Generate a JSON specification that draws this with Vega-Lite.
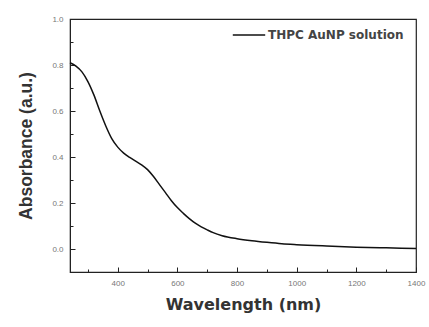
{
  "$schema": "https://vega.github.io/schema/vega-lite/v6.json",
  "width": 346,
  "height": 253,
  "autosize": "none",
  "padding": {"left": 70, "top": 19, "right": 13, "bottom": 55},
  "background": "white",
  "config": {
    "view": {"stroke": "#222", "strokeWidth": 1.2},
    "axis": {"grid": false, "domainColor": "#222", "tickColor": "#222", "labelFont": "Liberation Sans", "labelFontSize": 8, "labelColor": "#777", "titleFont": "DejaVu Sans", "titleFontSize": 16, "titleFontWeight": "bold", "titleColor": "#333"}
  },
  "data": {"values": [
    {"wl": 240, "abs": 0.81, "s": "THPC AuNP solution"},
    {"wl": 260, "abs": 0.795, "s": "THPC AuNP solution"},
    {"wl": 280, "abs": 0.77, "s": "THPC AuNP solution"},
    {"wl": 300, "abs": 0.728, "s": "THPC AuNP solution"},
    {"wl": 320, "abs": 0.67, "s": "THPC AuNP solution"},
    {"wl": 340, "abs": 0.6, "s": "THPC AuNP solution"},
    {"wl": 360, "abs": 0.535, "s": "THPC AuNP solution"},
    {"wl": 380, "abs": 0.48, "s": "THPC AuNP solution"},
    {"wl": 400, "abs": 0.443, "s": "THPC AuNP solution"},
    {"wl": 420, "abs": 0.417, "s": "THPC AuNP solution"},
    {"wl": 440, "abs": 0.398, "s": "THPC AuNP solution"},
    {"wl": 460, "abs": 0.382, "s": "THPC AuNP solution"},
    {"wl": 480, "abs": 0.366, "s": "THPC AuNP solution"},
    {"wl": 500, "abs": 0.345, "s": "THPC AuNP solution"},
    {"wl": 520, "abs": 0.315, "s": "THPC AuNP solution"},
    {"wl": 540, "abs": 0.28, "s": "THPC AuNP solution"},
    {"wl": 560, "abs": 0.245, "s": "THPC AuNP solution"},
    {"wl": 580, "abs": 0.21, "s": "THPC AuNP solution"},
    {"wl": 600, "abs": 0.18, "s": "THPC AuNP solution"},
    {"wl": 620, "abs": 0.155, "s": "THPC AuNP solution"},
    {"wl": 640, "abs": 0.132, "s": "THPC AuNP solution"},
    {"wl": 660, "abs": 0.112, "s": "THPC AuNP solution"},
    {"wl": 680, "abs": 0.096, "s": "THPC AuNP solution"},
    {"wl": 700, "abs": 0.083, "s": "THPC AuNP solution"},
    {"wl": 720, "abs": 0.071, "s": "THPC AuNP solution"},
    {"wl": 750, "abs": 0.058, "s": "THPC AuNP solution"},
    {"wl": 800, "abs": 0.045, "s": "THPC AuNP solution"},
    {"wl": 850, "abs": 0.036, "s": "THPC AuNP solution"},
    {"wl": 900, "abs": 0.029, "s": "THPC AuNP solution"},
    {"wl": 950, "abs": 0.023, "s": "THPC AuNP solution"},
    {"wl": 1000, "abs": 0.019, "s": "THPC AuNP solution"},
    {"wl": 1100, "abs": 0.013, "s": "THPC AuNP solution"},
    {"wl": 1200, "abs": 0.008, "s": "THPC AuNP solution"},
    {"wl": 1300, "abs": 0.005, "s": "THPC AuNP solution"},
    {"wl": 1400, "abs": 0.002, "s": "THPC AuNP solution"}
  ]},
  "layer": [
    {
      "mark": {"type": "line", "strokeWidth": 1.5, "interpolate": "monotone"},
      "encoding": {
        "x": {"field": "wl", "type": "quantitative", "scale": {"domain": [240, 1400], "nice": false, "zero": false},
              "axis": {"title": "Wavelength (nm)", "values": [400, 600, 800, 1000, 1200, 1400], "format": "d", "tickSize": -5, "labelPadding": 12, "titlePadding": 9, "labelFlush": false}},
        "y": {"field": "abs", "type": "quantitative", "scale": {"domain": [-0.1, 1.0], "nice": false, "zero": false},
              "axis": {"title": "Absorbance (a.u.)", "titleFont": "Liberation Sans", "titleFontSize": 17.5, "values": [0, 0.2, 0.4, 0.6, 0.8, 1.0], "format": ".1f", "tickSize": -5, "labelPadding": 12, "titlePadding": 16, "labelFlush": false}},
        "color": {"field": "s", "type": "nominal", "scale": {"range": ["#111"]},
                  "legend": {"title": null, "orient": "none", "legendX": 162, "legendY": -1, "symbolType": "stroke", "symbolSize": 1050, "symbolStrokeWidth": 1.3, "labelFont": "DejaVu Sans", "labelFontSize": 12, "labelFontWeight": "bold", "labelColor": "#444", "padding": 0, "labelOffset": 2, "labelLimit": 300}}
      }
    },
    {
      "mark": {"type": "line", "opacity": 0},
      "encoding": {
        "x": {"field": "wl", "type": "quantitative",
              "axis": {"orient": "bottom", "title": null, "labels": false, "domain": false, "values": [300, 500, 700, 900, 1100, 1300], "tickSize": -3}},
        "y": {"field": "abs", "type": "quantitative",
              "axis": {"orient": "left", "title": null, "labels": false, "domain": false, "values": [-0.1, 0.1, 0.3, 0.5, 0.7, 0.9], "tickSize": -3}}
      }
    }
  ],
  "resolve": {"axis": {"x": "independent", "y": "independent"}}
}
